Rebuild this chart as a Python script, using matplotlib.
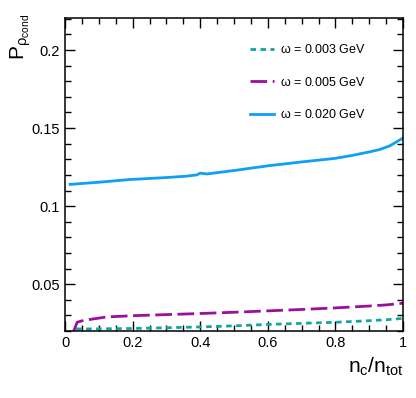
import numpy as np
import matplotlib.pyplot as plt
from matplotlib.ticker import MultipleLocator

plt.rcParams['font.family'] = ['Liberation Sans', 'DejaVu Sans']
plt.rcParams['mathtext.fontset'] = 'custom'
plt.rcParams['mathtext.rm'] = 'Liberation Sans'
plt.rcParams['mathtext.it'] = 'Liberation Sans'

# omega = 0.020 GeV
x_020 = [0.015, 0.1, 0.19, 0.3, 0.36, 0.39, 0.40, 0.42, 0.5, 0.6, 0.7, 0.8, 0.85, 0.9, 0.93, 0.96, 1.0]
p_020 = [0.1139, 0.1153, 0.1170, 0.1183, 0.1192, 0.1200, 0.1211, 0.1206, 0.1228, 0.1258, 0.1283, 0.1306, 0.1325, 0.1347, 0.1362, 0.1385, 0.1436]

# omega = 0.005 GeV
x_005 = [0.025, 0.036, 0.05, 0.074, 0.123, 0.2, 0.3, 0.4, 0.5, 0.6, 0.7, 0.8, 0.9, 0.95, 1.0]
p_005 = [0.0195, 0.0256, 0.0265, 0.0274, 0.0290, 0.0298, 0.0305, 0.0312, 0.0320, 0.0329, 0.0338, 0.0348, 0.0360, 0.0367, 0.0378]

# omega = 0.003 GeV
x_003 = [0.033, 0.1, 0.2, 0.3, 0.4, 0.5, 0.6, 0.7, 0.8, 0.9, 0.95, 1.0]
p_003 = [0.0213, 0.0214, 0.0216, 0.0221, 0.0226, 0.0233, 0.0242, 0.0249, 0.0256, 0.0266, 0.0272, 0.0281]

fig = plt.figure(figsize=(4.16, 3.98), dpi=100)
ax = fig.add_axes([65/416, 1-331/398, 338/416, 313/398])

ax.plot(x_003, p_003, color='#11a5a0', lw=2.0, dashes=(2, 1.6), label=r'$\omega$ = 0.003 GeV')
ax.plot(x_005, p_005, color='#9c0f9e', lw=2.0, dashes=(6, 2), label=r'$\omega$ = 0.005 GeV')
ax.plot(x_020, p_020, color='#0da0f5', lw=2.0, label=r'$\omega$ = 0.020 GeV')

ax.set_xlim(0, 1)
ax.set_ylim(0.02, 0.2205)
ax.xaxis.set_major_locator(MultipleLocator(0.2))
ax.xaxis.set_minor_locator(MultipleLocator(0.05))
ax.yaxis.set_major_locator(MultipleLocator(0.05))
ax.yaxis.set_minor_locator(MultipleLocator(0.01))
ax.set_yticks([0.05, 0.1, 0.15, 0.2])
ax.set_yticklabels(['0.05', '0.1', '0.15', '0.2'])
ax.set_xticks([0, 0.2, 0.4, 0.6, 0.8, 1.0])
ax.set_xticklabels(['0', '0.2', '0.4', '0.6', '0.8', '1'])
ax.tick_params(which='both', direction='in', top=True, right=True, labelsize=10.5)
ax.tick_params(which='major', length=7, width=1)
ax.tick_params(which='minor', length=4, width=1)
for s in ax.spines.values():
    s.set_linewidth(1.1)

ax.set_xlabel(r'$\mathrm{n_c/n_{tot}}$', fontsize=15)
ax.xaxis.set_label_coords(1.0, -0.08)
ax.xaxis.label.set_ha('right')
ax.set_ylabel(r'$\mathrm{P_{\rho_{cond}}}$', fontsize=15)
ax.yaxis.set_label_coords(-0.095, 0.94)

ax.legend(loc='upper left', bbox_to_anchor=(0.515, 0.955), frameon=False,
          fontsize=9, labelspacing=1.55, handlelength=1.9, handletextpad=0.5)

plt.savefig('out.png', dpi=100)
